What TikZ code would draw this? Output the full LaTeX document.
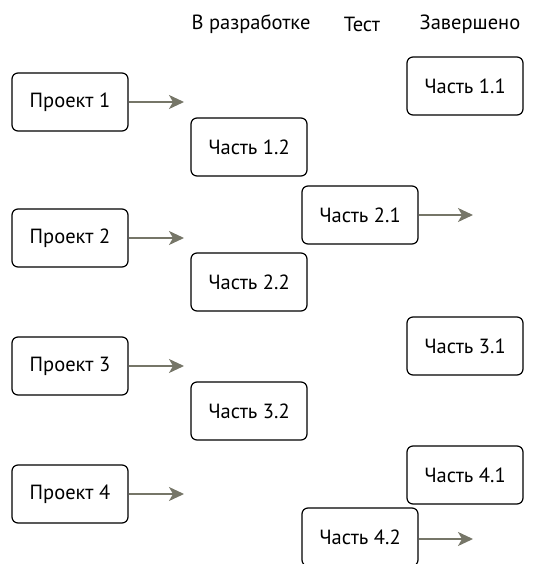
\documentclass[tikz,border=0pt]{standalone}
\usepackage{fontspec}
\setmainfont{PT Sans}
\usetikzlibrary{arrows.meta}

\definecolor{arrowgray}{RGB}{118,118,104}

\begin{document}
\begin{tikzpicture}[x=1pt,y=-1pt,
box/.style={draw, line width=1.2pt, rounded corners=6pt, minimum width=116pt, minimum height=58pt, font=\fontsize{20.5}{24}\selectfont},
head/.style={font=\fontsize{20.5}{24}\selectfont},
go/.style={draw=arrowgray, line width=1.5pt, -{Stealth[length=15pt,width=14pt,inset=4pt]}, arrowgray}
]
\useasboundingbox (0,0) rectangle (534,564);

% columns
\node[head] (dev) at (251,24) {В разработке};
\node[head] (test) at (362,24) {Тест};
\node[head] (done) at (470,24) {Завершено};

% projects
\node[box] (p1) at (70,102) {Проект 1};
\node[box] (p2) at (70,238) {Проект 2};
\node[box] (p3) at (70,366) {Проект 3};
\node[box] (p4) at (70,494) {Проект 4};

% parts
\node[box] (c11) at (465,86) {Часть 1.1};
\node[box] (c12) at (249,147) {Часть 1.2};
\node[box] (c21) at (360,215) {Часть 2.1};
\node[box] (c22) at (249,282) {Часть 2.2};
\node[box] (c31) at (465,346) {Часть 3.1};
\node[box] (c32) at (249,411) {Часть 3.2};
\node[box] (c41) at (465,475) {Часть 4.1};
\node[box] (c42) at (360,537) {Часть 4.2};

\coordinate (e1) at (184,102);
\coordinate (e2) at (184,238);
\coordinate (e3) at (184,366);
\coordinate (e4) at (184,494);
\coordinate (e21) at (473,215);
\coordinate (e42) at (473,539);

\draw[go] (p1) -- (e1);
\draw[go] (p2) -- (e2);
\draw[go] (p3) -- (e3);
\draw[go] (p4) -- (e4);
\draw[go] (c21.east) -- (e21);
\draw[go] (c42.east |- e42) -- (e42);
\end{tikzpicture}
\end{document}
